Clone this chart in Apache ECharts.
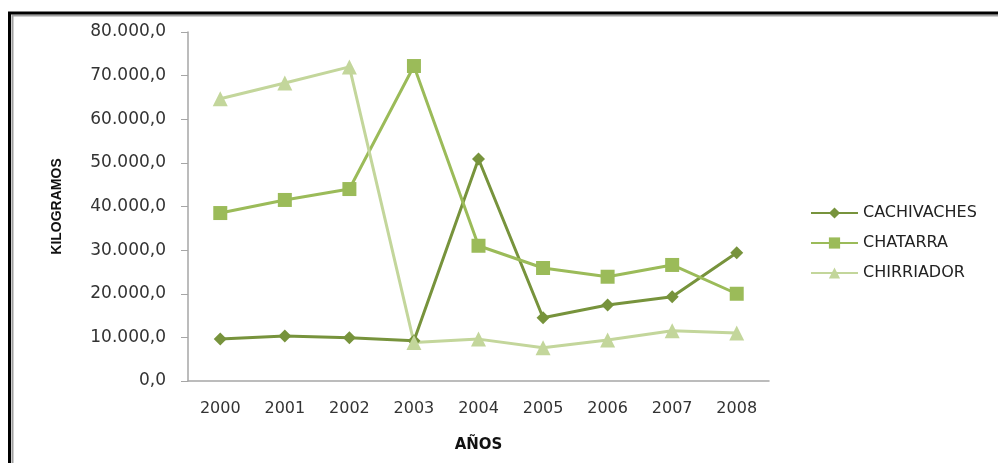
<!DOCTYPE html>
<html>
<head>
<meta charset="utf-8">
<script src="https://cdn.jsdelivr.net/npm/echarts@6/dist/echarts.min.js"></script>
<style>
	html, body { margin: 0; padding: 0; background: #fff; }
	#main { width: 998px; height: 463px; }
</style>
</head>
<body>
<div id="main"></div>
<script>
var years = [ '2000', '2001', '2002', '2003', '2004', '2005', '2006', '2007', '2008' ];
var cachivaches = [ 9600, 10300, 9900, 9200, 50900, 14500, 17400, 19300, 29400 ];
var chatarra = [ 38500, 41500, 44000, 72200, 31000, 25900, 23900, 26600, 20000 ];
var chirriador = [ 64700, 68300, 72000, 8800, 9600, 7600, 9400, 11500, 11000 ];
var yTicks = [ 0, 10000, 20000, 30000, 40000, 50000, 60000, 70000, 80000 ];

var labelFont = 'DejaVu Sans';

// 80000 -> "80.000,0"
function fmt(v) {
	var s = Math.round(v).toString();
	var out = '';
	while (s.length > 3) {
		out = '.' + s.slice(-3) + out;
		s = s.slice(0, -3);
	}
	return s + out + ',0';
}

var chart = echarts.init(document.getElementById('main'));

function lineSeries(name, data, color, symbol, size) {
	return {
		name : name,
		type : 'line',
		data : data,
		symbol : symbol,
		symbolSize : size,
		showAllSymbol : true,
		lineStyle : { color : color, width : 3 },
		itemStyle : { color : color },
		emphasis : { disabled : true },
		animation : false
	};
}

var option = {
	backgroundColor : '#fff',
	graphic : [ {
		type : 'rect',
		shape : { x : 12.5, y : 15.5, width : 1100, height : 600 },
		style : { fill : null, stroke : '#a0a0a0', lineWidth : 2 },
		silent : true
	}, {
		type : 'rect',
		shape : { x : 9.5, y : 13, width : 1100, height : 600 },
		style : { fill : null, stroke : '#000', lineWidth : 3 },
		silent : true
	} ],
	grid : {
		left : 188,
		right : 229,
		top : 32,
		bottom : 82
	},
	legend : {
		orient : 'vertical',
		left : 805,
		top : 200,
		itemWidth : 47,
		itemHeight : 14,
		itemGap : 14,
		textStyle : {
			fontFamily : labelFont,
			fontSize : 16,
			color : '#222'
		},
		data : [ 'CACHIVACHES', 'CHATARRA', 'CHIRRIADOR' ]
	},
	xAxis : {
		type : 'category',
		data : years,
		boundaryGap : true,
		name : 'AÑOS',
		nameLocation : 'middle',
		nameGap : 57,
		nameTextStyle : {
			fontFamily : labelFont,
			fontSize : 15,
			fontWeight : 'bold',
			color : '#111'
		},
		axisLine : { lineStyle : { color : '#a6a6a6', width : 1.5 } },
		axisTick : { show : false },
		axisLabel : {
			margin : 20,
			fontFamily : labelFont,
			fontSize : 16,
			color : '#333'
		}
	},
	yAxis : {
		type : 'value',
		min : yTicks[0],
		max : yTicks[yTicks.length - 1],
		interval : 10000,
		name : 'KILOGRAMOS',
		nameLocation : 'middle',
		nameRotate : 90,
		nameGap : 124,
		nameTextStyle : {
			fontFamily : 'Liberation Sans Narrow, Liberation Sans',
			fontSize : 14,
			fontWeight : 'bold',
			color : '#111'
		},
		splitLine : { show : false },
		axisLine : { show : true, lineStyle : { color : '#a6a6a6', width : 1.5 } },
		axisTick : { show : true, length : 7, lineStyle : { color : '#a6a6a6' } },
		axisLabel : {
			margin : 22,
			fontFamily : labelFont,
			fontSize : 17,
			color : '#333',
			formatter : fmt
		}
	},
	series : [
		lineSeries('CACHIVACHES', cachivaches, '#77933c', 'diamond', 13),
		lineSeries('CHATARRA', chatarra, '#9bbb59', 'rect', 14),
		lineSeries('CHIRRIADOR', chirriador, '#c3d69b', 'triangle', 15)
	]
};

chart.setOption(option);
</script>
</body>
</html>
